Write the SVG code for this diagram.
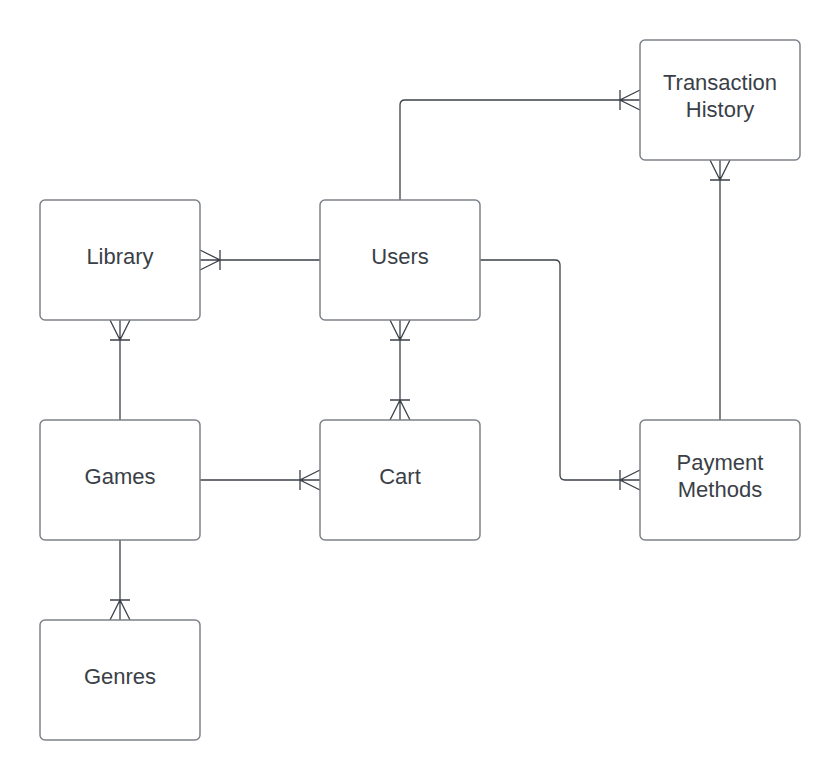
<svg xmlns="http://www.w3.org/2000/svg" width="840" height="780" viewBox="0 0 840 780">
<style>
.box{fill:#ffffff;stroke:#7d8188;stroke-width:1.5}
.lbl{font-family:"Liberation Sans",Arial,sans-serif;font-size:22px;fill:#3a3f47;text-anchor:middle}
.con{fill:none;stroke:#3c4149;stroke-width:1.3}
</style>
<rect width="840" height="780" fill="#ffffff"/>
<g id="connectors">
<!-- Users - Library -->
<path class="con" d="M320 260 H200 M200 250 L220 260 L200 270 M220 250 V270"/>
<!-- Library - Games -->
<path class="con" d="M120 420 V320 M110 320 L120 340 L130 320 M110 340 H130"/>
<!-- Games - Genres -->
<path class="con" d="M120 540 V620 M110 620 L120 600 L130 620 M110 600 H130"/>
<!-- Users - Cart -->
<path class="con" d="M400 320 V420 M390 320 L400 340 L410 320 M390 340 H410 M390 420 L400 400 L410 420 M390 400 H410"/>
<!-- Games - Cart -->
<path class="con" d="M200 480 H320 M320 470 L300 480 L320 490 M300 470 V490"/>
<!-- Users - Transaction History -->
<path class="con" d="M400 200 V105 Q400 100 405 100 H640 M640 90 L620 100 L640 110 M620 90 V110"/>
<!-- Transaction History - Payment Methods -->
<path class="con" d="M720 420 V160 M710 160 L720 180 L730 160 M710 180 H730"/>
<!-- Users - Payment Methods -->
<path class="con" d="M480 260 H555 Q560 260 560 265 V475 Q560 480 565 480 H640 M640 470 L620 480 L640 490 M620 470 V490"/>
</g>
<g id="library"><rect class="box" x="40" y="200" width="160" height="120" rx="5"/><text class="lbl" x="120" y="264">Library</text></g>
<g id="users"><rect class="box" x="320" y="200" width="160" height="120" rx="5"/><text class="lbl" x="400" y="264">Users</text></g>
<g id="transaction-history"><rect class="box" x="640" y="40" width="160" height="120" rx="5"/><text class="lbl" x="720" y="90">Transaction</text><text class="lbl" x="720" y="117">History</text></g>
<g id="games"><rect class="box" x="40" y="420" width="160" height="120" rx="5"/><text class="lbl" x="120" y="484">Games</text></g>
<g id="cart"><rect class="box" x="320" y="420" width="160" height="120" rx="5"/><text class="lbl" x="400" y="484">Cart</text></g>
<g id="payment-methods"><rect class="box" x="640" y="420" width="160" height="120" rx="5"/><text class="lbl" x="720" y="470">Payment</text><text class="lbl" x="720" y="497">Methods</text></g>
<g id="genres"><rect class="box" x="40" y="620" width="160" height="120" rx="5"/><text class="lbl" x="120" y="684">Genres</text></g>
</svg>
